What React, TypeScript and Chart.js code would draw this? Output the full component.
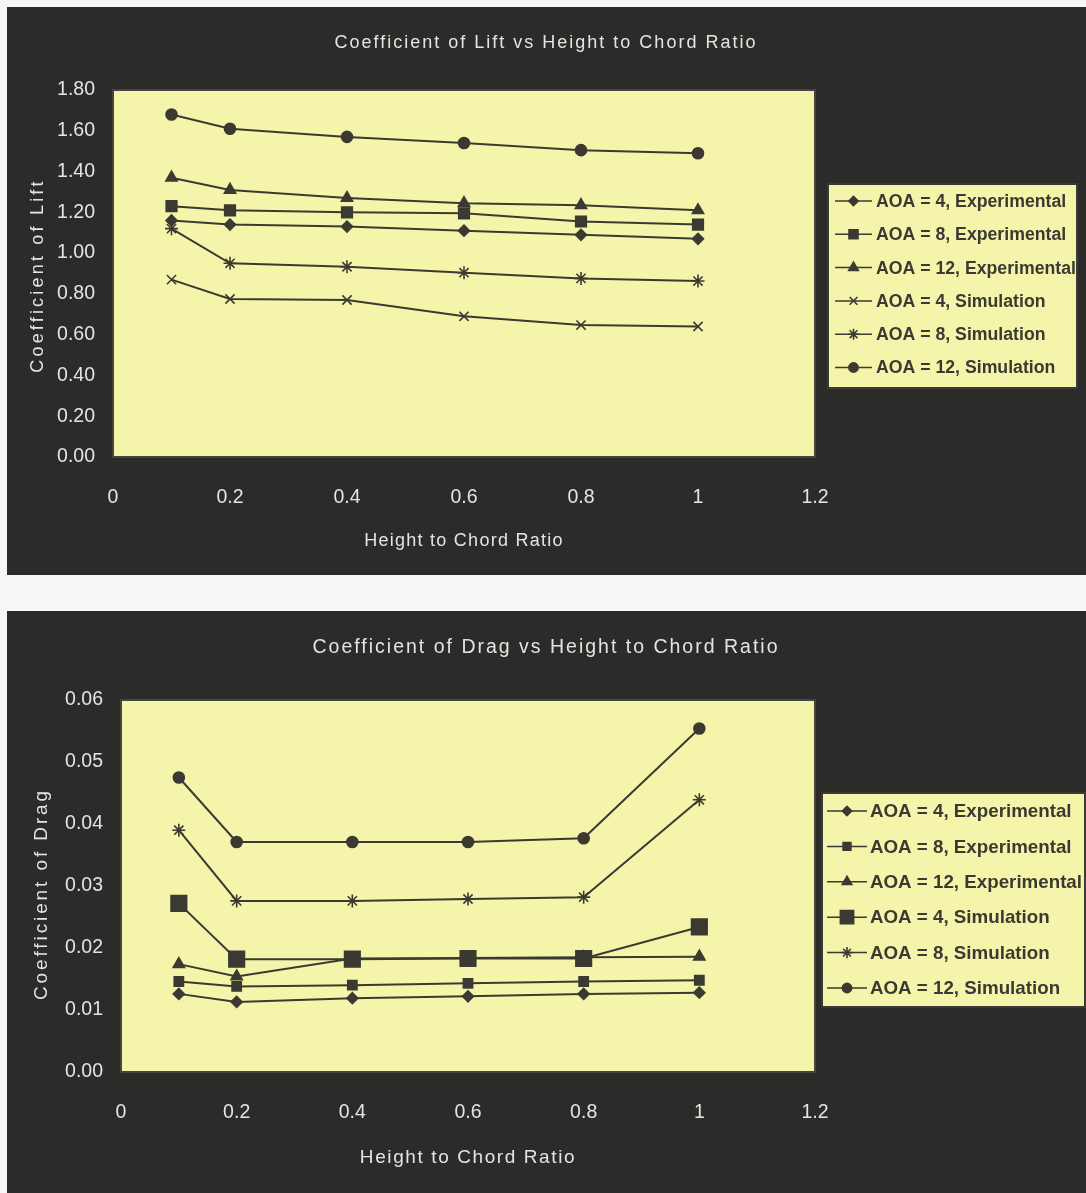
import React, { useEffect, useRef } from 'react';
import { Chart, registerables } from 'chart.js';
import { drawPoint } from 'chart.js/helpers';

Chart.register(...registerables);

// ---------- data ----------
const heightToChord = [0.1, 0.2, 0.4, 0.6, 0.8, 1.0];

const seriesLabels = [
  'AOA = 4, Experimental',
  'AOA = 8, Experimental',
  'AOA = 12, Experimental',
  'AOA = 4, Simulation',
  'AOA = 8, Simulation',
  'AOA = 12, Simulation',
];

const liftAoa4Exp = [1.16, 1.14, 1.13, 1.11, 1.09, 1.07];
const liftAoa8Exp = [1.23, 1.21, 1.2, 1.195, 1.155, 1.14];
const liftAoa12Exp = [1.37, 1.31, 1.27, 1.245, 1.235, 1.21];
const liftAoa4Sim = [0.87, 0.775, 0.77, 0.69, 0.647, 0.64];
const liftAoa8Sim = [1.12, 0.95, 0.933, 0.904, 0.876, 0.863];
const liftAoa12Sim = [1.68, 1.61, 1.57, 1.54, 1.505, 1.49];

const dragAoa4Exp = [0.0126, 0.0113, 0.0119, 0.0122, 0.0126, 0.0128];
const dragAoa8Exp = [0.0146, 0.0138, 0.014, 0.0143, 0.0146, 0.0148];
const dragAoa12Exp = [0.0174, 0.0154, 0.0183, 0.0184, 0.0185, 0.0186];
const dragAoa4Sim = [0.0272, 0.0182, 0.0182, 0.0183, 0.0183, 0.0234];
const dragAoa8Sim = [0.039, 0.0276, 0.0276, 0.0279, 0.0282, 0.0439];
const dragAoa12Sim = [0.0475, 0.0371, 0.0371, 0.0371, 0.0377, 0.0554];

const xTickRange = { min: 0, max: 1.2, step: 0.2 };
const liftTickRange = { min: 0, max: 1.8, step: 0.2 };
const dragTickRange = { min: 0, max: 0.06, step: 0.01 };

const liftTitle = 'Coefficient of Lift vs Height to Chord Ratio';
const dragTitle = 'Coefficient of Drag vs Height to Chord Ratio';
const xAxisTitle = 'Height to Chord Ratio';
const liftAxisTitle = 'Coefficient of Lift';
const dragAxisTitle = 'Coefficient of Drag';

// ---------- styles ----------
const PANEL_BG = '#2b2b29';
const PLOT_BG = '#f4f4aa';
const INK = '#3a3a32';
const LIGHT_TEXT = '#e4e4e2';
const FONT = '"Liberation Sans", Arial, sans-serif';

const liftStyles = [
  { pointStyle: 'rectRot', radius: 5.5 },
  { pointStyle: 'rect', radius: 7.5 },
  { pointStyle: 'triangle', radius: 6.5 },
  { pointStyle: 'crossRot', radius: 6.5 },
  { pointStyle: 'star', radius: 6.5 },
  { pointStyle: 'circle', radius: 5.5 },
];
const dragStyles = [
  { pointStyle: 'rectRot', radius: 5.5 },
  { pointStyle: 'rect', radius: 6.5 },
  { pointStyle: 'triangle', radius: 6.5 },
  { pointStyle: 'rect', radius: 11 },
  { pointStyle: 'star', radius: 6.5 },
  { pointStyle: 'circle', radius: 5.5 },
];

function makeDatasets(series: number[][], styles: { pointStyle: string; radius: number }[]) {
  return series.map((vals, i) => ({
    label: seriesLabels[i],
    data: vals.map((v, j) => ({ x: heightToChord[j], y: v })),
    borderColor: INK,
    backgroundColor: INK,
    borderWidth: 2,
    pointStyle: styles[i].pointStyle,
    pointRadius: styles[i].radius,
    pointBackgroundColor: INK,
    pointBorderColor: INK,
    pointBorderWidth: 1.6,
    tension: 0,
  }));
}

// ---------- plugins ----------
function spacedText(
  ctx: CanvasRenderingContext2D,
  text: string,
  x: number,
  y: number,
  font: string,
  spacing: number,
  color: string,
  rotate: boolean
) {
  ctx.save();
  ctx.font = font;
  (ctx as any).letterSpacing = spacing + 'px';
  ctx.fillStyle = color;
  ctx.textAlign = 'center';
  ctx.textBaseline = 'middle';
  ctx.translate(x, y);
  if (rotate) ctx.rotate(-Math.PI / 2);
  ctx.fillText(text, 0, 0);
  ctx.restore();
}

const panelPlugin = {
  id: 'panel',
  beforeDraw(chart: any) {
    const { ctx, chartArea: ca } = chart;
    ctx.save();
    ctx.fillStyle = PANEL_BG;
    ctx.fillRect(0, 0, chart.width, chart.height);
    ctx.fillStyle = PLOT_BG;
    ctx.fillRect(ca.left, ca.top, ca.right - ca.left, ca.bottom - ca.top);
    ctx.strokeStyle = '#45453f';
    ctx.lineWidth = 2;
    ctx.strokeRect(ca.left, ca.top, ca.right - ca.left, ca.bottom - ca.top);
    ctx.restore();
  },
  afterDraw(chart: any, _a: any, opts: any) {
    const { ctx, chartArea: ca } = chart;
    const t = opts.title;
    spacedText(ctx, t.text, t.x, t.y, t.font, t.spacing, LIGHT_TEXT, false);
    const xt = opts.xTitle;
    spacedText(ctx, xt.text, (ca.left + ca.right) / 2 + xt.dx, ca.bottom + xt.dy, xt.font, xt.spacing, LIGHT_TEXT, false);
    const yt = opts.yTitle;
    spacedText(ctx, yt.text, yt.x, (ca.top + ca.bottom) / 2 + yt.dy, yt.font, yt.spacing, LIGHT_TEXT, true);
  },
};

const boxLegendPlugin = {
  id: 'boxLegend',
  afterDatasetsDraw(chart: any, _a: any, opts: any) {
    const { ctx } = chart;
    const b = opts.box;
    ctx.save();
    ctx.fillStyle = PLOT_BG;
    ctx.fillRect(b.x, b.y, b.w, b.h);
    ctx.strokeStyle = '#3a3a36';
    ctx.lineWidth = 2;
    ctx.strokeRect(b.x, b.y, b.w, b.h);
    ctx.font = opts.font;
    const datasets = chart.data.datasets;
    const widest = Math.max(...datasets.map((d: any) => ctx.measureText(d.label).width));
    const sx = opts.textWidth / widest;
    datasets.forEach((d: any, i: number) => {
      const y = opts.firstRowY + i * opts.rowGap;
      ctx.strokeStyle = d.borderColor;
      ctx.lineWidth = 1.5;
      ctx.beginPath();
      ctx.moveTo(opts.lineX0, y);
      ctx.lineTo(opts.lineX1, y);
      ctx.stroke();
      ctx.fillStyle = d.pointBackgroundColor;
      ctx.strokeStyle = d.pointBorderColor;
      ctx.lineWidth = d.pointBorderWidth;
      drawPoint(
        ctx,
        {
          pointStyle: d.pointStyle,
          rotation: 0,
          radius: d.pointRadius * opts.markerScale,
          borderWidth: d.pointBorderWidth,
        } as any,
        (opts.lineX0 + opts.lineX1) / 2,
        y
      );
      ctx.save();
      ctx.fillStyle = INK;
      ctx.font = opts.font;
      ctx.textAlign = 'left';
      ctx.textBaseline = 'middle';
      ctx.translate(opts.textX, y);
      ctx.scale(sx, 1);
      ctx.fillText(d.label, 0, 1);
      ctx.restore();
    });
    ctx.restore();
  },
};

// ---------- chart builder ----------
function buildConfig(p: {
  datasets: any[];
  yRange: { min: number; max: number; step: number };
  area: { left: number; top: number; right: number; bottom: number };
  width: number;
  height: number;
  tickFont: number;
  title: any;
  xTitle: any;
  yTitle: any;
  legend: any;
}) {
  const { area } = p;
  return {
    type: 'line',
    data: { datasets: p.datasets },
    options: {
      animation: false,
      responsive: false,
      maintainAspectRatio: false,
      layout: {
        padding: { left: 0, top: area.top, right: p.width - area.right, bottom: 0 },
      },
      plugins: {
        legend: { display: false },
        tooltip: { enabled: false },
        title: { display: false },
        panel: { title: p.title, xTitle: p.xTitle, yTitle: p.yTitle },
        boxLegend: p.legend,
      },
      scales: {
        x: {
          type: 'linear',
          min: xTickRange.min,
          max: xTickRange.max,
          grid: { display: false, drawTicks: false },
          border: { display: false },
          ticks: {
            stepSize: xTickRange.step,
            color: LIGHT_TEXT,
            font: { family: FONT, size: p.tickFont },
            padding: 29,
            maxRotation: 0,
            autoSkip: false,
            callback: (v: number) => String(+v.toFixed(1)),
          },
          afterFit: (s: any) => {
            s.height = p.height - area.bottom;
          },
        },
        y: {
          type: 'linear',
          min: p.yRange.min,
          max: p.yRange.max,
          grid: { display: false, drawTicks: false },
          border: { display: false },
          ticks: {
            stepSize: p.yRange.step,
            color: LIGHT_TEXT,
            font: { family: FONT, size: p.tickFont },
            padding: 18,
            autoSkip: false,
            callback: (v: number) => v.toFixed(2),
          },
          afterFit: (s: any) => {
            s.width = area.left;
          },
        },
      },
    },
    plugins: [panelPlugin, boxLegendPlugin],
  } as any;
}

function ChartPanel({ config, width, height, left, top }: any) {
  const ref = useRef<HTMLCanvasElement | null>(null);
  useEffect(() => {
    if (!ref.current) return;
    const chart = new Chart(ref.current, config);
    return () => chart.destroy();
  }, []);
  return (
    <canvas
      ref={ref}
      width={width}
      height={height}
      style={{ position: 'absolute', left, top, width, height, display: 'block' }}
    />
  );
}

export default function App() {
  const liftW = 1079;
  const liftH = 568;
  const dragW = 1079;
  const dragH = 582;

  const liftConfig = buildConfig({
    datasets: makeDatasets(
      [liftAoa4Exp, liftAoa8Exp, liftAoa12Exp, liftAoa4Sim, liftAoa8Sim, liftAoa12Sim],
      liftStyles
    ),
    yRange: liftTickRange,
    area: { left: 106, top: 83, right: 808, bottom: 450 },
    width: liftW,
    height: liftH,
    tickFont: 19.5,
    title: { text: liftTitle, x: 539, y: 36, font: `18px ${FONT}`, spacing: 2 },
    xTitle: { text: xAxisTitle, dx: 0, dy: 84, font: `18px ${FONT}`, spacing: 1.25 },
    yTitle: { text: liftAxisTitle, x: 31, dy: 2, font: `18px ${FONT}`, spacing: 3.2 },
    legend: {
      box: { x: 821, y: 177, w: 249, h: 204 },
      firstRowY: 194,
      rowGap: 33.3,
      lineX0: 828,
      lineX1: 865,
      textX: 869,
      textWidth: 200,
      font: `bold 18px ${FONT}`,
      markerScale: 0.85,
    },
  });

  const dragConfig = buildConfig({
    datasets: makeDatasets(
      [dragAoa4Exp, dragAoa8Exp, dragAoa12Exp, dragAoa4Sim, dragAoa8Sim, dragAoa12Sim],
      dragStyles
    ),
    yRange: dragTickRange,
    area: { left: 114, top: 89, right: 808, bottom: 461 },
    width: dragW,
    height: dragH,
    tickFont: 19.5,
    title: { text: dragTitle, x: 539, y: 37, font: `19.5px ${FONT}`, spacing: 2 },
    xTitle: { text: xAxisTitle, dx: 0, dy: 86, font: `19px ${FONT}`, spacing: 1.6 },
    yTitle: { text: dragAxisTitle, x: 35, dy: 8, font: `19px ${FONT}`, spacing: 2.9 },
    legend: {
      box: { x: 815, y: 182, w: 263, h: 214 },
      firstRowY: 200,
      rowGap: 35.4,
      lineX0: 820,
      lineX1: 860,
      textX: 863,
      textWidth: 212,
      font: `bold 19px ${FONT}`,
      markerScale: 0.85,
    },
  });

  return (
    <div
      style={{
        position: 'absolute',
        left: 0,
        top: 0,
        width: 1086,
        height: 1193,
        background: '#f6f6f4',
        overflow: 'hidden',
      }}
    >
      <ChartPanel config={liftConfig} width={liftW} height={liftH} left={7} top={7} />
      <ChartPanel config={dragConfig} width={dragW} height={dragH} left={7} top={611} />
    </div>
  );
}
